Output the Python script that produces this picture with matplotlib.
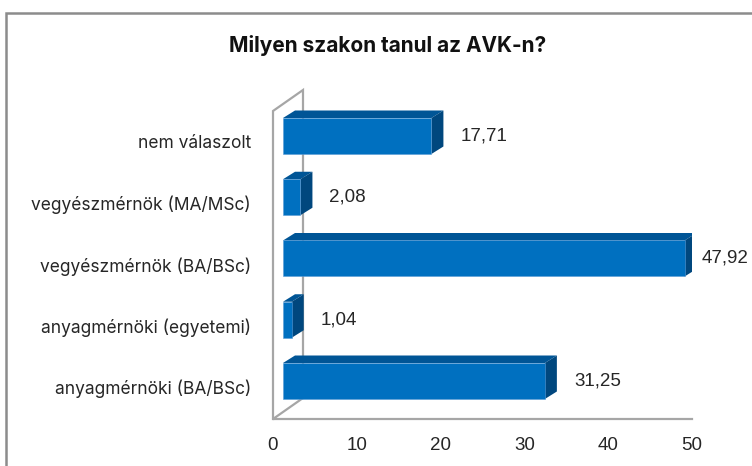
import matplotlib
matplotlib.use("Agg")
import matplotlib.pyplot as plt
from matplotlib.patches import Polygon, Rectangle

categories = ["anyagmérnöki (BA/BSc)", "anyagmérnöki (egyetemi)",
              "vegyészmérnök (BA/BSc)", "vegyészmérnök (MA/MSc)", "nem válaszolt"]
values = [31.25, 1.04, 47.92, 2.08, 17.71]
value_labels = ["31,25", "1,04", "47,92", "2,08", "17,71"]
x_ticks = [0, 10, 20, 30, 40, 50]
title = "Milyen szakon tanul az AVK-n?"

W, H = 752, 466
fig = plt.figure(figsize=(W / 100, H / 100), dpi=100)

# plot area (front plane) in pixels
L, R, T, B = 273, 692, 90, 419
ax = fig.add_axes([L / W, 1 - B / H, (R - L) / W, (B - T) / H])
ax.set_xlim(0, 50)
step = 61.25
ylo = -(B - 381) / step
yhi = 4 + (136 - T) / step
ax.set_ylim(ylo, yhi)
ax.axis("off")

sx = 50 / (R - L)       # data units per px (x)
sy = 1 / step           # data units per px (y)

front_c = "#0070C0"
top_c = "#005596"
side_c = "#00477E"
wall_c = "#A6A6A6"

# depth of walls
wdx, wdy = 30 * sx, 21 * sy
top_front = yhi - wdy
ax.plot([0, 0, wdx, wdx], [ylo, top_front, yhi, ylo + wdy], color=wall_c, lw=1.6,
        solid_joinstyle="miter", clip_on=False)
ax.plot([wdx, 0, 50], [ylo + wdy, ylo, ylo], color=wall_c, lw=1.6, clip_on=False)

# bars
x0 = 10 * sx
bh = 36 * sy
bdx, bdy = 12 * sx, 7.5 * sy
for i, v in enumerate(values):
    y0 = i - bh / 2
    y1 = i + bh / 2
    x1 = x0 + v
    top = Polygon([(x0, y1), (x1, y1), (x1 + bdx, y1 + bdy), (x0 + bdx, y1 + bdy)],
                  closed=True, facecolor=top_c, edgecolor="none", zorder=3)
    side = Polygon([(x1, y0), (x1 + bdx, y0 + bdy), (x1 + bdx, y1 + bdy), (x1, y1)],
                   closed=True, facecolor=side_c, edgecolor="none", zorder=3)
    ax.add_patch(top)
    ax.add_patch(side)
    ax.barh(i, v, left=x0, height=bh, color=front_c, zorder=4,
            edgecolor="#5B9BD5", linewidth=0.4)
    lx = x1 + bdx + 17 * sx
    if lx + 50 * sx > 50 + (W - 3 - R) * sx:
        ax.text(50 + (W - 3 - R) * sx, i, value_labels[i], ha="right", va="center",
                fontsize=13.5, family="Liberation Sans", color="#262626", clip_on=False)
    else:
        ax.text(lx, i, value_labels[i], ha="left", va="center",
                fontsize=13.5, family="Liberation Sans", color="#262626", clip_on=False)
    ax.text(-(L - 251) * sx, i - 8 * sy, categories[i], ha="right", va="center",
            fontsize=12.5, family="Inter", color="#262626", clip_on=False)

for t in x_ticks:
    ax.text(t, ylo - 27 * sy, str(t), ha="center", va="center", fontsize=13.5,
            family="Liberation Sans", color="#262626", clip_on=False)

fig.text(388 / W, 1 - 45 / H, title, ha="center", va="center", fontsize=15,
         fontweight="bold", family="Inter", color="#111111")

fig.add_artist(Rectangle((6 / W, -0.1), 2, 1 - 13 / H + 0.1, transform=fig.transFigure,
                         fill=False, edgecolor="#8C8C8C", lw=1.8))

fig.savefig("out.png", dpi=100, facecolor="white")
